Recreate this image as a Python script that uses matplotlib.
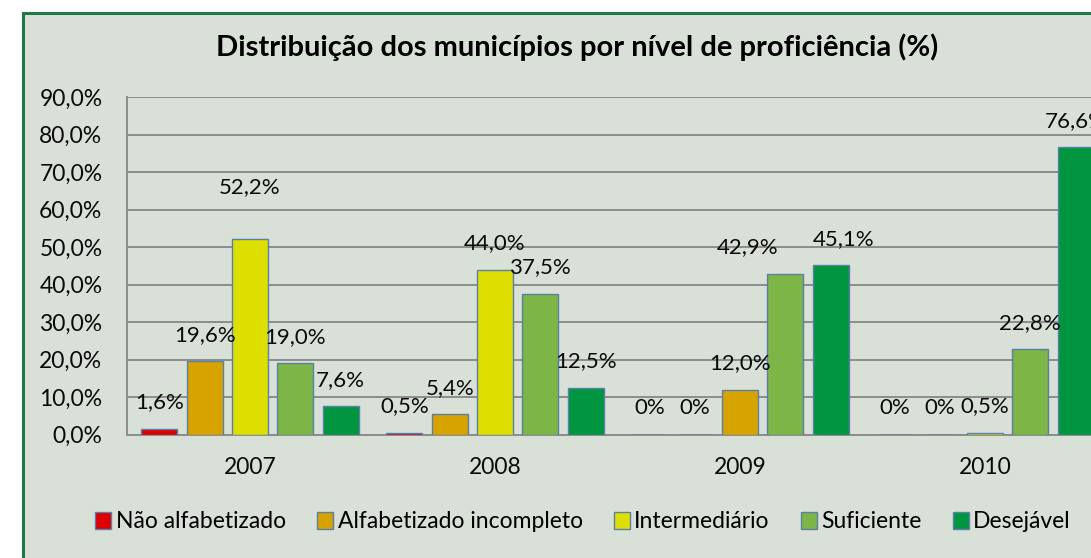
import matplotlib.pyplot as plt
from matplotlib.patches import Rectangle
import numpy as np

# ── data ──
years = ["2007", "2008", "2009", "2010"]
series_names = ["Não alfabetizado", "Alfabetizado incompleto", "Intermediário",
                "Suficiente", "Desejável"]
nao_alf = [1.6, 0.5, 0.0, 0.0]
alf_inc = [19.6, 5.4, 0.0, 0.0]
intermed = [52.2, 44.0, 12.0, 0.5]
suficiente = [19.0, 37.5, 42.9, 22.8]
desejavel = [7.6, 12.5, 45.1, 76.6]
yticks = [0, 10, 20, 30, 40, 50, 60, 70, 80, 90]

colors = ["#DD0000", "#D6A300", "#DCDF00", "#7DB546", "#00963F"]
edge = "#5A7FA8"
bg = "#D9E0D8"

# hand-moved data labels in the original (series index, year) -> (dx, dy) pt
label_moves = {(2, "2007"): (0, 37), (3, "2009"): (-27, 19), (4, "2009"): (9, 19)}

plt.rcParams["font.family"] = ["Lato", "DejaVu Sans"]

fig = plt.figure(figsize=(10.91, 5.58), dpi=100, facecolor="white")
fig.patches.append(Rectangle((23 / 1091, -0.05), 1.2, 1 - 13 / 558 + 0.05,
                             transform=fig.transFigure, facecolor=bg,
                             edgecolor="#1F7A45", lw=2.2, zorder=-10))

ax = fig.add_axes([127.5 / 1091, 1 - 434.5 / 558, 980 / 1091, 337.5 / 558])
ax.set_facecolor(bg)

x = np.arange(len(years))
pitch, width = 0.185, 0.147
all_series = [nao_alf, alf_inc, intermed, suficiente, desejavel]

for i, (vals, name) in enumerate(zip(all_series, series_names)):
    pos = x + (i - 2) * pitch
    bar_colors = [colors[i]] * len(vals)
    if i == 2:
        bar_colors[2] = colors[1]   # 2009 bar drawn in orange in the original
    ax.bar(pos, vals, width, color=bar_colors, edgecolor=edge, lw=1,
           label=name, zorder=3)
    for p, v, yr in zip(pos, vals, years):
        txt = "0%" if v == 0 else f"{v:.1f}%".replace(".", ",")
        off = label_moves.get((i, yr), (0, 19))
        ax.annotate(txt, (p, v), xytext=off, textcoords="offset points",
                    ha="center", va="center", fontsize=16, color="#0A0A0A",
                    zorder=4, annotation_clip=False)

ax.set_xlim(-0.5, len(years) - 0.5)
ax.set_ylim(0, 90)
ax.set_yticks(yticks)
ax.set_yticklabels([f"{t:.1f}%".replace(".", ",") for t in yticks], fontsize=16.5)
ax.set_xticks(x)
ax.set_xticklabels(years, fontsize=16.5)
ax.tick_params(axis="y", length=0, pad=18, colors="#0A0A0A")
ax.tick_params(axis="x", length=0, pad=16, colors="#0A0A0A")
ax.yaxis.grid(True, color="#8C8C8C", lw=1.4, zorder=0)
ax.set_axisbelow(True)
for s in ["top", "right"]:
    ax.spines[s].set_visible(False)
for s in ["left", "bottom"]:
    ax.spines[s].set_color("#8C8C8C")
    ax.spines[s].set_linewidth(1.4)

fig.text(577 / 1091, 1 - 47 / 558,
         "Distribuição dos municípios por nível de proficiência (%)",
         ha="center", va="center", fontsize=21, fontweight="bold")

leg = fig.legend(*ax.get_legend_handles_labels(), loc="center",
                 bbox_to_anchor=(583 / 1091, 1 - 522 / 558), ncol=5,
                 frameon=False, fontsize=16.5, handlelength=0.7,
                 handleheight=0.7, handletextpad=0.2, columnspacing=1.35)

fig.savefig("out.png", dpi=100, facecolor="white")
